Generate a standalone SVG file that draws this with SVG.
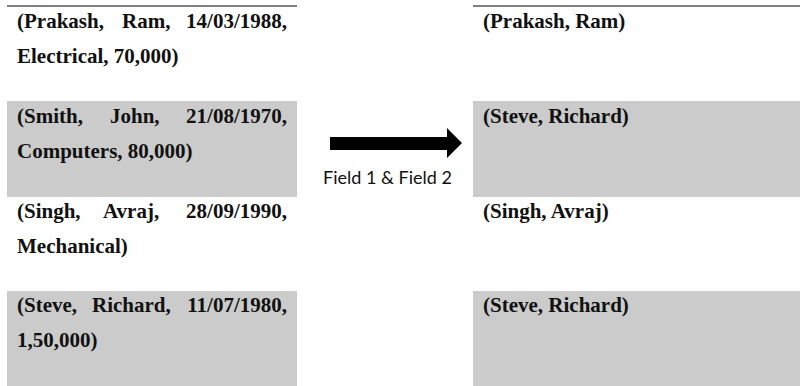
<svg xmlns="http://www.w3.org/2000/svg" width="800" height="386" viewBox="0 0 800 386">
  <style>
    .rec { font-family: "Liberation Serif", "Times New Roman", serif; font-weight: bold; font-size: 21px; fill: #111; }
    .shade { fill: #cbcbcb; }
    .rule { stroke: #000; stroke-width: 1.2; }
    .lbl { font-family: Lato, "Open Sans", "Liberation Sans", sans-serif; font-size: 18px; fill: #111; }
  </style>
  <rect width="800" height="386" fill="#fff"/>

  <!-- source records -->
  <g id="src-1">
    <line class="rule" x1="7" y1="6" x2="297" y2="6"/>
    <text class="rec" x="17" y="28">(Prakash,</text>
    <text class="rec" x="122" y="28">Ram,</text>
    <text class="rec" x="287" y="28" text-anchor="end">14/03/1988,</text>
    <text class="rec" x="17" y="63">Electrical, 70,000)</text>
  </g>
  <g id="src-2">
    <rect class="shade" x="7" y="101" width="290" height="96"/>
    <text class="rec" x="17" y="123">(Smith,</text>
    <text class="rec" x="110" y="123">John,</text>
    <text class="rec" x="287" y="123" text-anchor="end">21/08/1970,</text>
    <text class="rec" x="17" y="158">Computers, 80,000)</text>
  </g>
  <g id="src-3">
    <text class="rec" x="17" y="218">(Singh,</text>
    <text class="rec" x="103" y="218">Avraj,</text>
    <text class="rec" x="287" y="218" text-anchor="end">28/09/1990,</text>
    <text class="rec" x="17" y="253">Mechanical)</text>
  </g>
  <g id="src-4">
    <rect class="shade" x="7" y="291" width="290" height="95"/>
    <text class="rec" x="17" y="312">(Steve,</text>
    <text class="rec" x="92" y="312">Richard,</text>
    <text class="rec" x="287" y="312" text-anchor="end">11/07/1980,</text>
    <text class="rec" x="17" y="347">1,50,000)</text>
  </g>

  <!-- projected records -->
  <g id="dst-1">
    <line class="rule" x1="473" y1="6" x2="800" y2="6"/>
    <text class="rec" x="483" y="28">(Prakash, Ram)</text>
  </g>
  <g id="dst-2">
    <rect class="shade" x="473" y="101" width="327" height="96"/>
    <text class="rec" x="483" y="123">(Steve, Richard)</text>
  </g>
  <g id="dst-3">
    <text class="rec" x="483" y="218">(Singh, Avraj)</text>
  </g>
  <g id="dst-4">
    <rect class="shade" x="473" y="291" width="327" height="95"/>
    <text class="rec" x="483" y="312">(Steve, Richard)</text>
  </g>

  <!-- projection arrow -->
  <g id="connectors">
    <polygon fill="#000" points="330,137 447,137 447,128 462,143 447,158 447,150 330,150"/>
    <text class="lbl" x="323" y="184" textLength="129" lengthAdjust="spacingAndGlyphs">Field 1 &amp; Field 2</text>
  </g>
</svg>
